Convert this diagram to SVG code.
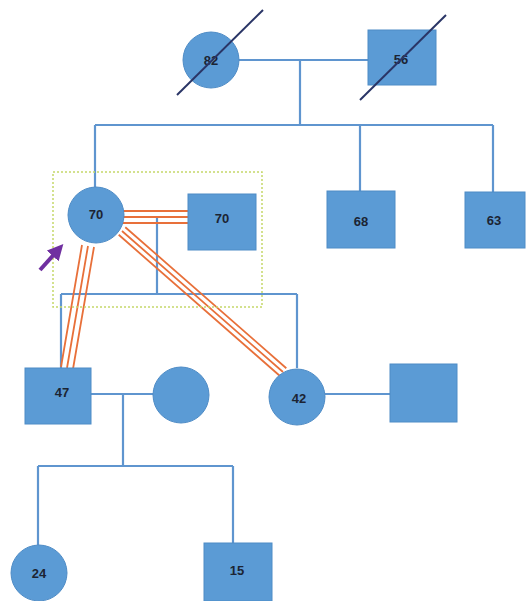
<svg xmlns="http://www.w3.org/2000/svg" width="526" height="601" viewBox="0 0 526 601">
<style>
.n{fill:#5b9bd5;stroke:#4f8cc6;stroke-width:1}
.l{stroke:#5f95cf;stroke-width:2.2;fill:none}
.c{stroke:#e8703a;stroke-width:1.8;fill:none}
.d{stroke:#2a3566;stroke-width:2;fill:none}
.t{font-family:"Liberation Sans",Arial,sans-serif;font-weight:bold;font-size:13px;fill:#1c2433;text-anchor:middle;dominant-baseline:central}
</style>
<defs>
<marker id="ah" markerWidth="4" markerHeight="4" refX="2" refY="2" orient="auto"><path d="M0,0 L4,2 L0,4 Z" fill="#7030a0"/></marker>
</defs>
<rect width="526" height="601" fill="#ffffff"/>
<g id="connectors">
<path class="l" d="M239,60 H368 M300,60 V125 M95,125 H493 M95,125 V187 M360,125 V191 M493,125 V192"/>
<path class="l" d="M157,217 V294 M61,294 H297 M61,294 V368 M297,294 V368"/>
<path class="l" d="M91,394 H153 M123,394 V466 M38,466 H233 M38,466 V545 M233,466 V543"/>
<path class="l" d="M325,394 H390"/>
<path class="c" d="M123,211 H188 M123,217 H188 M123,223 H188"/>
<path class="c" d="M82,245 L61,367 M88,246 L67,368 M94,247 L73,369"/>
<path class="c" d="M118.7,234.8 L279.7,375.8 M122,231 L283,372 M125.3,227.2 L286.3,368.2"/>
<rect x="53" y="172" width="209" height="135" fill="none" stroke="#c5d86a" stroke-width="1.5" stroke-dasharray="2,2"/>
<line x1="40" y1="270" x2="58" y2="250" stroke="#7030a0" stroke-width="4" marker-end="url(#ah)"/>
</g>
<g id="n82"><circle class="n" cx="211" cy="60" r="28"/><text class="t" x="211" y="60">82</text><line class="d" x1="177" y1="95" x2="263" y2="10"/></g>
<g id="n56"><rect class="n" x="368" y="30" width="68" height="55"/><text class="t" x="401" y="59">56</text><line class="d" x1="360" y1="100" x2="446" y2="15"/></g>
<g id="n70f"><circle class="n" cx="96" cy="215" r="28"/><text class="t" x="96" y="214">70</text></g>
<g id="n70m"><rect class="n" x="188" y="194" width="68" height="56"/><text class="t" x="222" y="218">70</text></g>
<g id="n68"><rect class="n" x="327" y="191" width="68" height="57"/><text class="t" x="361" y="221">68</text></g>
<g id="n63"><rect class="n" x="465" y="192" width="60" height="56"/><text class="t" x="494" y="220">63</text></g>
<g id="n47"><rect class="n" x="25" y="368" width="66" height="56"/><text class="t" x="62" y="392">47</text></g>
<g id="nwife"><circle class="n" cx="181" cy="395" r="28"/></g>
<g id="n42"><circle class="n" cx="297" cy="397" r="28"/><text class="t" x="299" y="398">42</text></g>
<g id="nhusb"><rect class="n" x="390" y="364" width="67" height="58"/></g>
<g id="n24"><circle class="n" cx="39" cy="573" r="28"/><text class="t" x="39" y="573">24</text></g>
<g id="n15"><rect class="n" x="204" y="543" width="68" height="58"/><text class="t" x="237" y="570">15</text></g>
</svg>
